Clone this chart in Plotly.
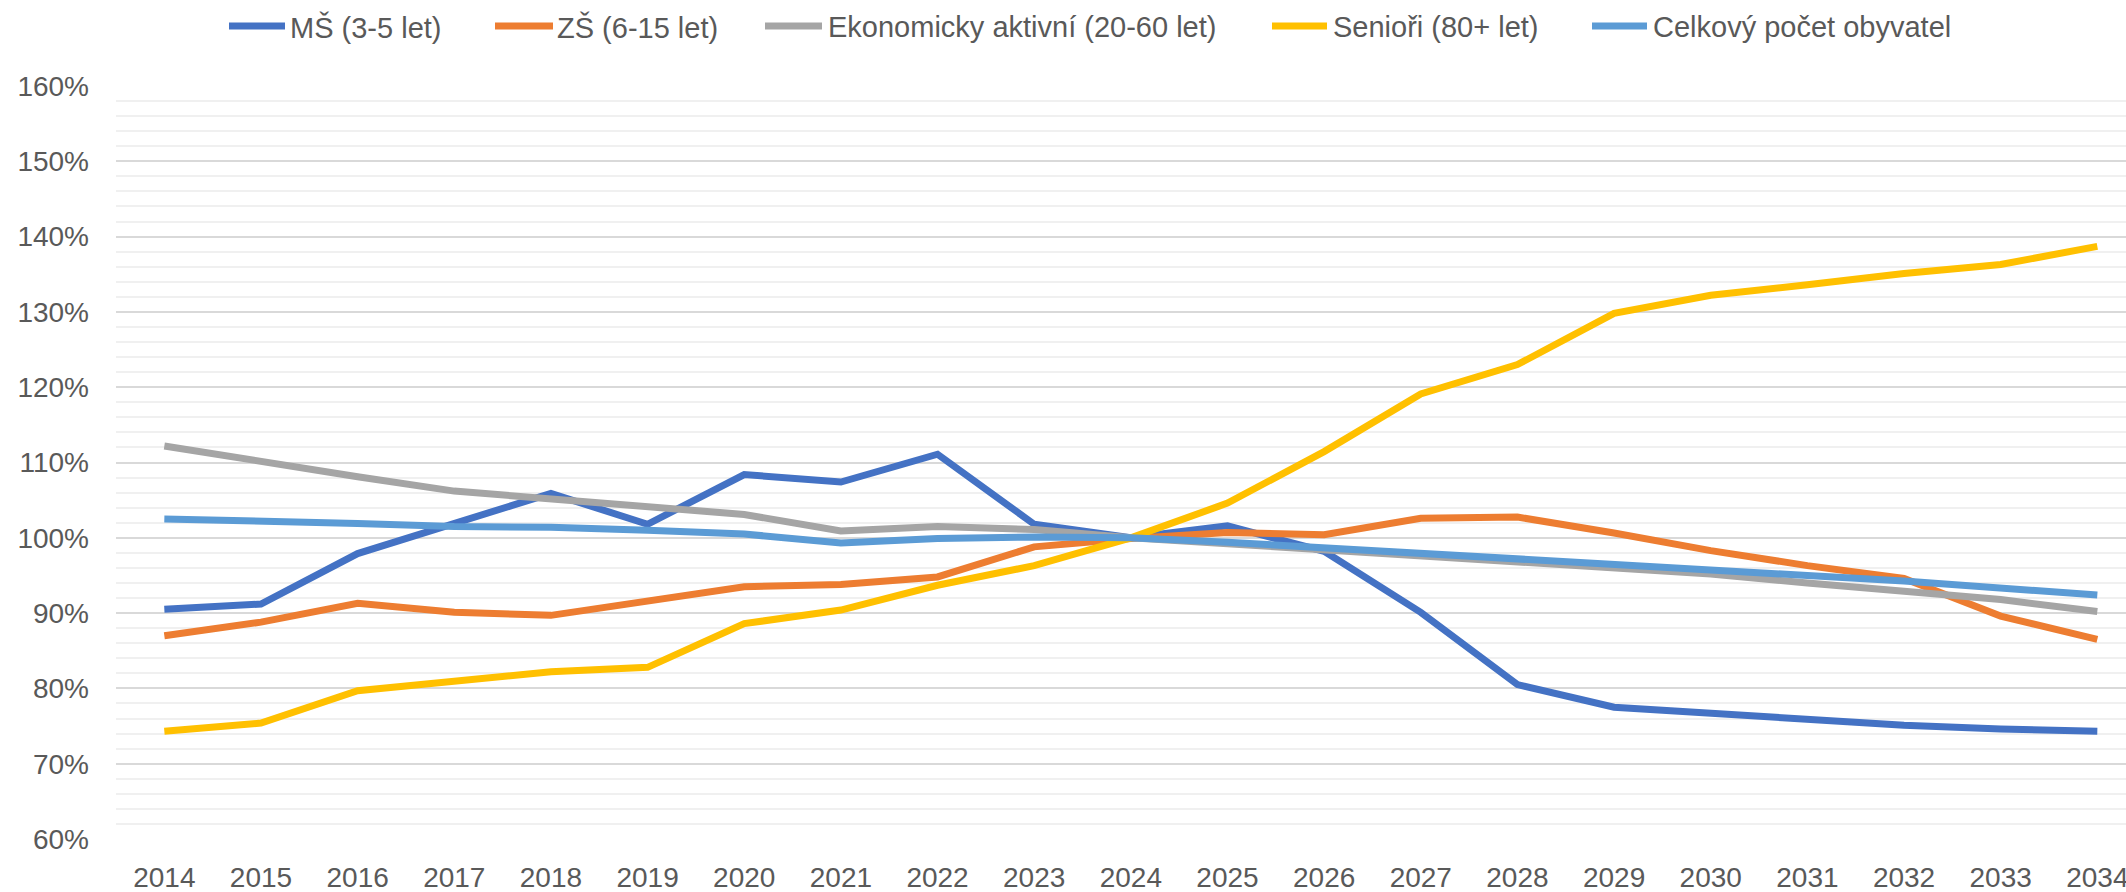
import plotly.graph_objects as go

# ---- data ----
years = list(range(2014, 2035))
ms = [0.905, 0.912, 0.979, 1.018, 1.059, 1.018, 1.084, 1.074, 1.111, 1.018, 1.000,
      1.016, 0.982, 0.901, 0.805, 0.775, 0.767, 0.758, 0.751, 0.746, 0.743]
zs = [0.870, 0.888, 0.913, 0.901, 0.897, 0.917, 0.935, 0.938, 0.948, 0.988, 0.999,
      1.007, 1.004, 1.026, 1.0275, 1.0064, 0.983, 0.963, 0.946, 0.896, 0.865]
eko = [1.122, 1.101, 1.081, 1.062, 1.052, 1.040, 1.031, 1.009, 1.015, 1.011, 1.000,
       0.992, 0.984, 0.977, 0.968, 0.960, 0.952, 0.940, 0.930, 0.918, 0.902]
sen = [0.743, 0.754, 0.797, 0.809, 0.822, 0.828, 0.886, 0.904, 0.937, 0.963, 1.000,
       1.046, 1.1145, 1.191, 1.230, 1.298, 1.322, 1.336, 1.351, 1.363, 1.387]
celk = [1.025, 1.023, 1.019, 1.015, 1.014, 1.010, 1.005, 0.993, 0.999, 1.001, 1.000,
        0.994, 0.987, 0.979, 0.972, 0.965, 0.957, 0.950, 0.9425, 0.934, 0.924]

names = ["MŠ (3-5 let)", "ZŠ (6-15 let)", "Ekonomicky aktivní (20-60 let)",
         "Senioři (80+ let)", "Celkový počet obyvatel"]
series = [ms, zs, eko, sen, celk]
colors = ["#4472C4", "#ED7D31", "#A5A5A5", "#FFC000", "#5B9BD5"]

# ---- layout constants (pixels) ----
W, H = 2126, 892
L, R, T, B = 116, 0, 86, 53
PW, PH = W - L - R, H - T - B
STEP = 96.65  # px per year
FONT = "Liberation Sans, Arial, sans-serif"
TXT = "#595959"

fig = go.Figure()
for name, vals, col in zip(names, series, colors):
    fig.add_trace(go.Scatter(x=years, y=vals, name=name, mode="lines",
                             line=dict(color=col, width=7), showlegend=False))

# custom legend (Excel-like spacing)
leg_line = [(229, 285), (495, 553), (765, 822), (1272, 1327), (1592, 1647)]
leg_text = [288, 555, 826, 1331, 1651]
leg_y = 26


def fx(px):
    return (px - L) / PW


def fy(py):
    return (H - B - py) / PH


shapes = []
annots = []
for (a, b), tx, name, col in zip(leg_line, leg_text, names, colors):
    shapes.append(dict(type="line", xref="paper", yref="paper",
                       x0=fx(a), x1=fx(b), y0=fy(leg_y), y1=fy(leg_y),
                       line=dict(color=col, width=7)))
    annots.append(dict(text=name, xref="paper", yref="paper", x=fx(tx), y=fy(leg_y + 1),
                       xanchor="left", yanchor="middle", showarrow=False,
                       font=dict(family=FONT, size=29, color=TXT)))

fig.update_layout(
    width=W, height=H,
    margin=dict(l=L, r=R, t=T, b=B, pad=0, autoexpand=False),
    paper_bgcolor="white", plot_bgcolor="white",
    font=dict(family=FONT, size=28, color=TXT),
    shapes=shapes, annotations=annots,
    showlegend=False,
)
fig.update_xaxes(
    range=[2013.5, 2013.5 + PW / STEP], tickmode="linear", tick0=2014, dtick=1,
    tickformat="d", showgrid=False, zeroline=False, showline=False, ticks="",
    automargin=False, ticklabeloverflow="allow",
    ticklabelstandoff=19, tickfont=dict(family=FONT, size=28, color=TXT),
)
fig.update_yaxes(
    range=[0.6, 1.6], tickmode="linear", tick0=0.6, dtick=0.1, tickformat=".0%",
    showgrid=True, gridcolor="#d9d9d9", gridwidth=1.5, zeroline=False, showline=False,
    automargin=False,
    ticks="", ticklabelstandoff=26, tickfont=dict(family=FONT, size=28, color=TXT),
    minor=dict(dtick=0.02, showgrid=True, gridcolor="#f0f0f0", gridwidth=1.5),
)

fig.write_html(
    "out.html",
    config={"displayModeBar": False},
    post_script="document.body.style.margin='0';document.body.style.overflow='hidden';",
)
